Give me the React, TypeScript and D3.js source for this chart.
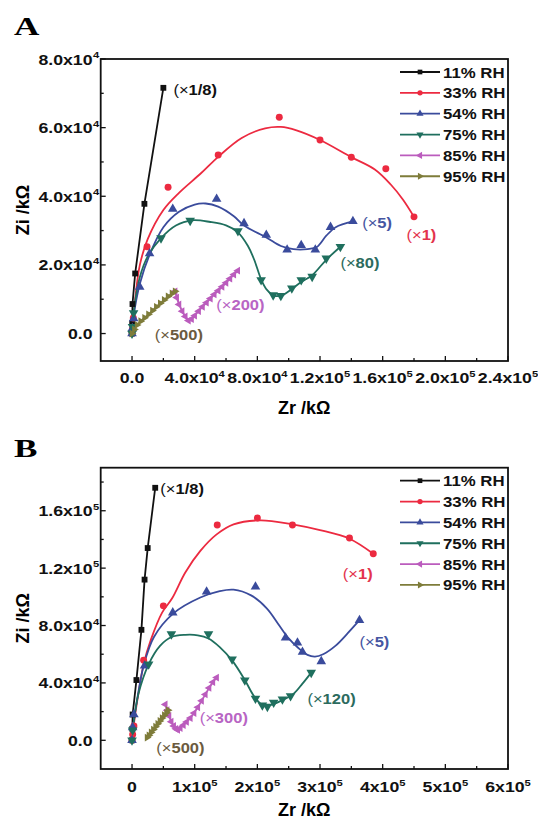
import React, { useEffect, useRef } from 'react';
import * as d3 from 'd3';

// ---- legend / series info ----
const seriesNames = ['11% RH', '33% RH', '54% RH', '75% RH', '85% RH', '95% RH'];
const seriesColors = ['#111111', '#ec2a40', '#3a4b9c', '#1f6f5e', '#bb5cbd', '#7e7c3a'];
const noteColors = ['#111111', '#e3344d', '#4656a2', '#2c6b5e', '#b865c4', '#6b5b3e'];

// ---- panel A (Zr, Zi in kOhm) ----
const aXTicks = [0, 40000, 80000, 120000, 160000, 200000, 240000];
const aXMinor = [20000, 60000, 100000, 140000, 180000, 220000];
const aYTicks = [0, 20000, 40000, 60000, 80000];
const aYMinor = [10000, 30000, 50000, 70000];

const a11 = [[0, 0], [100, 3000], [300, 8600], [2000, 17500], [7900, 37800], [20000, 71600]];
const a33 = [[0, 0], [300, 1500], [800, 4500], [9600, 25300], [23000, 42600], [55000, 52000], [94000, 63000], [120000, 56400], [140000, 51400], [162000, 48000], [180000, 34000]];
const a54 = [[0, 0], [200, 1500], [1000, 4400], [4900, 13600], [11200, 23300], [26000, 36300], [54000, 39200], [71500, 32100], [85700, 28700], [99000, 24400], [108000, 25700], [117000, 24400], [126700, 31000], [141000, 32700]];
const a75 = [[0, 0], [300, 2000], [1000, 6000], [18500, 27800], [37100, 32900], [67600, 29900], [82400, 15600], [90100, 11200], [95000, 11000], [102000, 13200], [108000, 15600], [115000, 16600], [124000, 21900], [133000, 25300]];
const a85 = [[27500, 12300], [28500, 10500], [30000, 8500], [32000, 6500], [34000, 5000], [36000, 3800], [38000, 4200], [40000, 5200], [42500, 6500], [45000, 7800], [47500, 9000], [50000, 10200], [52500, 11400], [55000, 12500], [57500, 13600], [60000, 14800], [62500, 16000], [65000, 17200], [67500, 18300]];
const a95 = [[0, 0], [1500, 1200], [3200, 2500], [5500, 3600], [8000, 4600], [10500, 5600], [13000, 6700], [15500, 7800], [18000, 8800], [20500, 9800], [23000, 10800], [25500, 11700], [27500, 12300]];

// fitted curves
const a33Fit = [[0, 0], [2000, 10000], [5000, 20000], [10000, 27500], [20000, 36000], [30000, 41000], [44000, 46700], [55000, 51500], [70000, 57000], [85000, 59800], [95000, 60200], [105000, 59200], [120000, 56400], [140000, 51400], [155000, 47800], [165000, 43500], [173000, 39000], [180000, 34000]];
const a54Fit = [[0, 0], [1000, 5000], [5000, 14500], [11200, 23000], [20000, 31000], [30000, 35500], [40000, 37600], [47000, 37900], [55000, 37000], [65000, 34200], [71500, 31500], [85700, 28000], [95000, 25500], [103000, 24600], [112000, 24600], [118000, 25200], [124000, 28500], [130000, 31000], [141000, 32700]];
const a75Fit = [[0, 0], [1500, 8000], [5000, 16500], [10000, 22500], [18500, 27800], [28000, 31500], [38500, 33000], [50000, 32500], [60000, 31500], [67600, 29500], [74000, 25500], [78000, 21500], [82400, 15800], [86000, 12800], [91000, 11000], [96000, 11200], [102000, 13000], [108000, 15000], [115000, 17000], [124000, 21500], [133000, 25300]];

const aNoteText = ['1/8)', '1)', '5)', '80)', '200)', '500)'];
const aNoteX = [26400, 175200, 146900, 133000, 53800, 14500];
const aNoteY = [71000, 28700, 32300, 20500, 8300, -400];

// ---- panel B ----
const bXTicks = [0, 100000, 200000, 300000, 400000, 500000, 600000];
const bXMinor = [50000, 150000, 250000, 350000, 450000, 550000];
const bYTicks = [0, 40000, 80000, 120000, 160000];
const bYMinor = [20000, 60000, 100000, 140000, 180000];

const b11 = [[0, 0], [500, 8000], [1000, 18000], [7000, 42000], [15000, 77000], [20000, 112000], [25000, 134000], [37000, 176000]];
const b33 = [[0, 0], [1000, 4000], [3000, 10000], [18500, 55800], [50000, 93700], [136000, 150000], [200000, 155000], [256000, 150000], [347000, 141000], [385000, 130000]];
const b54 = [[0, 0], [1000, 9000], [3000, 18000], [20000, 52000], [65000, 89000], [119000, 103500], [197000, 107000], [245000, 71500], [264000, 68000], [272000, 61500], [302000, 55000], [363000, 83700]];
const b75 = [[0, 0], [1000, 7000], [26500, 53000], [62800, 74000], [122000, 74000], [159700, 56500], [180000, 41900], [197000, 29100], [208000, 24400], [216000, 23500], [226000, 26300], [240000, 28600], [253000, 30900], [286000, 47200]];
const b85 = [[53000, 25000], [56000, 21000], [59000, 17000], [62500, 13000], [66500, 10000], [70000, 8000], [73000, 7200], [77000, 8500], [82000, 10500], [87000, 12800], [93000, 15500], [99000, 19000], [105000, 23000], [111000, 27500], [117000, 32000], [123000, 36500], [129000, 40500], [135000, 43700]];
const b95 = [[24000, 1900], [27000, 3500], [30500, 5500], [34000, 7500], [37500, 9500], [41000, 11500], [44500, 13500], [48000, 15500], [51500, 17500], [55000, 19200], [57500, 21000]];

const b33Fit = [[0, 0], [4000, 15000], [10000, 32000], [18500, 53000], [30000, 70000], [48000, 89000], [64000, 99000], [85000, 117000], [109000, 132000], [135000, 143500], [162000, 150500], [205000, 153300], [256000, 150500], [300000, 146500], [347000, 140500], [385000, 130000]];
const b54Fit = [[0, 0], [3000, 14000], [8000, 28000], [18500, 52000], [35000, 72000], [66500, 88600], [109000, 99500], [140000, 104000], [162000, 105000], [190000, 101000], [215000, 92000], [235000, 80000], [250000, 71000], [265000, 64500], [280000, 59500], [292000, 58300], [305000, 60000], [325000, 66000], [345000, 75000], [363000, 83700]];
const b75Fit = [[0, 0], [3000, 13000], [10000, 32000], [26500, 53000], [45000, 66000], [63000, 72000], [85000, 73500], [105000, 73200], [122000, 71000], [140000, 65000], [160000, 55500], [180000, 42000], [195000, 30500], [207000, 25000], [220000, 24500], [240000, 28000], [258000, 32500], [272000, 39500], [286000, 47200]];

const bNoteText = ['1/8)', '1)', '5)', '120)', '300)', '500)'];
const bNoteX = [45200, 336400, 363100, 280000, 108000, 38800];
const bNoteY = [175200, 115800, 68700, 28600, 15800, -5100];

const FONT = 'Arial, "Liberation Sans", sans-serif';
const SX = 1.18; // horizontal stretch of the source image text

const markerShapes = [d3.symbolSquare, d3.symbolCircle, d3.symbolTriangle, d3.symbolTriangle, d3.symbolTriangle, d3.symbolTriangle];
const markerRotate = [0, 0, 0, 180, -90, 90];
const markerSize = [34, 38, 40, 40, 26, 26];

function sci(v, digits) {
    if (v === 0) return [digits ? '0.0' : '0', ''];
    const e = Math.floor(Math.log10(v) + 1e-9);
    return [(v / Math.pow(10, e)).toFixed(digits) + 'x10', String(e)];
}

function drawPanel(svg, p) {
    const left = 100.7, right = 508;
    const x = d3.scaleLinear().domain(p.xDomain).range([left, right]);
    const y = d3.scaleLinear().domain(p.yDomain).range([p.bottom, p.top]);
    const g = svg.append('g');

    // panel letter
    g.append('text')
        .attr('transform', `translate(14,${p.letterY}) scale(1.35,1)`)
        .attr('font-family', '"Liberation Serif", "Times New Roman", serif')
        .attr('font-weight', 'bold').attr('font-size', 26)
        .text(p.letter);

    // series
    const plot = g.append('g');
    const line = d3.line().x(d => x(d[0])).y(d => y(d[1]));
    const smooth = d3.line().x(d => x(d[0])).y(d => y(d[1])).curve(d3.curveCatmullRom.alpha(0.5));

    p.series.forEach((pts, i) => {
        const fit = p.fits[i];
        plot.append('path')
            .attr('d', fit ? smooth(fit) : line(pts))
            .attr('fill', 'none')
            .attr('stroke', seriesColors[i])
            .attr('stroke-width', 1.8);
    });
    p.series.forEach((pts, i) => {
        const sym = d3.symbol().type(markerShapes[i]).size(markerSize[i]);
        plot.selectAll(null).data(pts).enter().append('path')
            .attr('d', sym)
            .attr('transform', d => `translate(${x(d[0])},${y(d[1])}) rotate(${markerRotate[i]})`)
            .attr('fill', seriesColors[i]);
    });

    // frame
    g.append('rect')
        .attr('x', left).attr('y', p.top)
        .attr('width', right - left).attr('height', p.bottom - p.top)
        .attr('fill', 'none').attr('stroke', '#111').attr('stroke-width', 1.8);

    // ticks (inside)
    const tk = g.append('g').attr('stroke', '#111').attr('stroke-width', 1.3);
    p.xTicks.forEach(v => tk.append('line').attr('x1', x(v)).attr('x2', x(v)).attr('y1', p.bottom).attr('y2', p.bottom - 5));
    p.xMinor.forEach(v => tk.append('line').attr('x1', x(v)).attr('x2', x(v)).attr('y1', p.bottom).attr('y2', p.bottom - 3));
    p.yTicks.forEach(v => tk.append('line').attr('x1', left).attr('x2', left + 5).attr('y1', y(v)).attr('y2', y(v)));
    p.yMinor.forEach(v => tk.append('line').attr('x1', left).attr('x2', left + 3).attr('y1', y(v)).attr('y2', y(v)));

    // x tick labels
    p.xTicks.forEach(v => {
        const [main, sup] = sci(v, p.xDigits);
        const t = g.append('text')
            .attr('transform', `translate(${x(v)},${p.xLabelY}) scale(${SX},1)`)
            .attr('text-anchor', 'middle')
            .attr('font-family', FONT).attr('font-weight', 'bold').attr('font-size', 15)
            .attr('fill', '#111');
        t.append('tspan').text(main);
        if (sup) t.append('tspan').attr('dy', -6).attr('font-size', 9.5).text(sup);
    });

    // y tick labels
    p.yTicks.forEach(v => {
        const [main, sup] = sci(v, p.yDigits);
        const t = g.append('g')
            .attr('transform', `translate(92.5,${y(v) + 5.5}) scale(${SX},1)`)
            .attr('font-family', FONT).attr('font-weight', 'bold').attr('fill', '#111');
        t.append('text').attr('text-anchor', 'end').attr('font-size', 15).text(main);
        if (sup) t.append('text').attr('x', 0.5).attr('y', -6.5).attr('font-size', 9.5).text(sup);
    });

    // axis titles
    g.append('text')
        .attr('x', (left + right) / 2).attr('y', p.titleY)
        .attr('text-anchor', 'middle')
        .attr('font-family', FONT).attr('font-weight', 'bold').attr('font-size', 18)
        .text('Zr /kΩ');
    g.append('text')
        .attr('transform', `translate(29,${(p.top + p.bottom) / 2}) rotate(-90)`)
        .attr('text-anchor', 'middle')
        .attr('font-family', FONT).attr('font-weight', 'bold').attr('font-size', 18)
        .text('Zi /kΩ');

    // curve notes
    p.noteText.forEach((txt, i) => {
        const t = g.append('text')
            .attr('transform', `translate(${x(p.noteX[i])},${y(p.noteY[i]) + 5}) scale(${SX},1)`)
            .attr('font-family', FONT).attr('font-size', 14)
            .attr('fill', noteColors[i]);
        t.append('tspan').text('(×');
        t.append('tspan').attr('font-weight', 'bold').text(txt);
    });

    // legend
    const lg = g.append('g');
    seriesNames.forEach((name, i) => {
        const ly = p.top + 13 + i * 20.85;
        lg.append('line').attr('x1', 400).attr('x2', 440).attr('y1', ly).attr('y2', ly)
            .attr('stroke', seriesColors[i]).attr('stroke-width', 1.8);
        lg.append('path')
            .attr('d', d3.symbol().type(markerShapes[i]).size(22))
            .attr('transform', `translate(420,${ly}) rotate(${markerRotate[i]})`)
            .attr('fill', seriesColors[i]);
        lg.append('text')
            .attr('transform', `translate(443,${ly + 5.5}) scale(1.12,1)`)
            .attr('font-family', FONT).attr('font-weight', 'bold').attr('font-size', 15)
            .attr('fill', '#111')
            .text(name);
    });
}

export default function App() {
    const ref = useRef(null);

    useEffect(() => {
        const svg = d3.select(ref.current);
        svg.selectAll('*').remove();
        drawPanel(svg, {
            letter: 'A', letterY: 35, top: 59, bottom: 361,
            xDomain: [-20000, 240000], yDomain: [-8000, 80000],
            xTicks: aXTicks, xMinor: aXMinor, yTicks: aYTicks, yMinor: aYMinor,
            xDigits: 1, yDigits: 1, xLabelY: 383, titleY: 414,
            series: [a11, a33, a54, a75, a85, a95],
            fits: [null, a33Fit, a54Fit, a75Fit, null, null],
            noteText: aNoteText, noteX: aNoteX, noteY: aNoteY
        });
        drawPanel(svg, {
            letter: 'B', letterY: 456.5, top: 467.7, bottom: 769,
            xDomain: [-50000, 600000], yDomain: [-20000, 190000],
            xTicks: bXTicks, xMinor: bXMinor, yTicks: bYTicks, yMinor: bYMinor,
            xDigits: 0, yDigits: 1, xLabelY: 792, titleY: 816,
            series: [b11, b33, b54, b75, b85, b95],
            fits: [null, b33Fit, b54Fit, b75Fit, null, null],
            noteText: bNoteText, noteX: bNoteX, noteY: bNoteY
        });
    }, []);

    return (
        <svg ref={ref} width={538} height={820}
            style={{ position: 'absolute', left: 0, top: 0, background: '#fff', display: 'block' }} />
    );
}
